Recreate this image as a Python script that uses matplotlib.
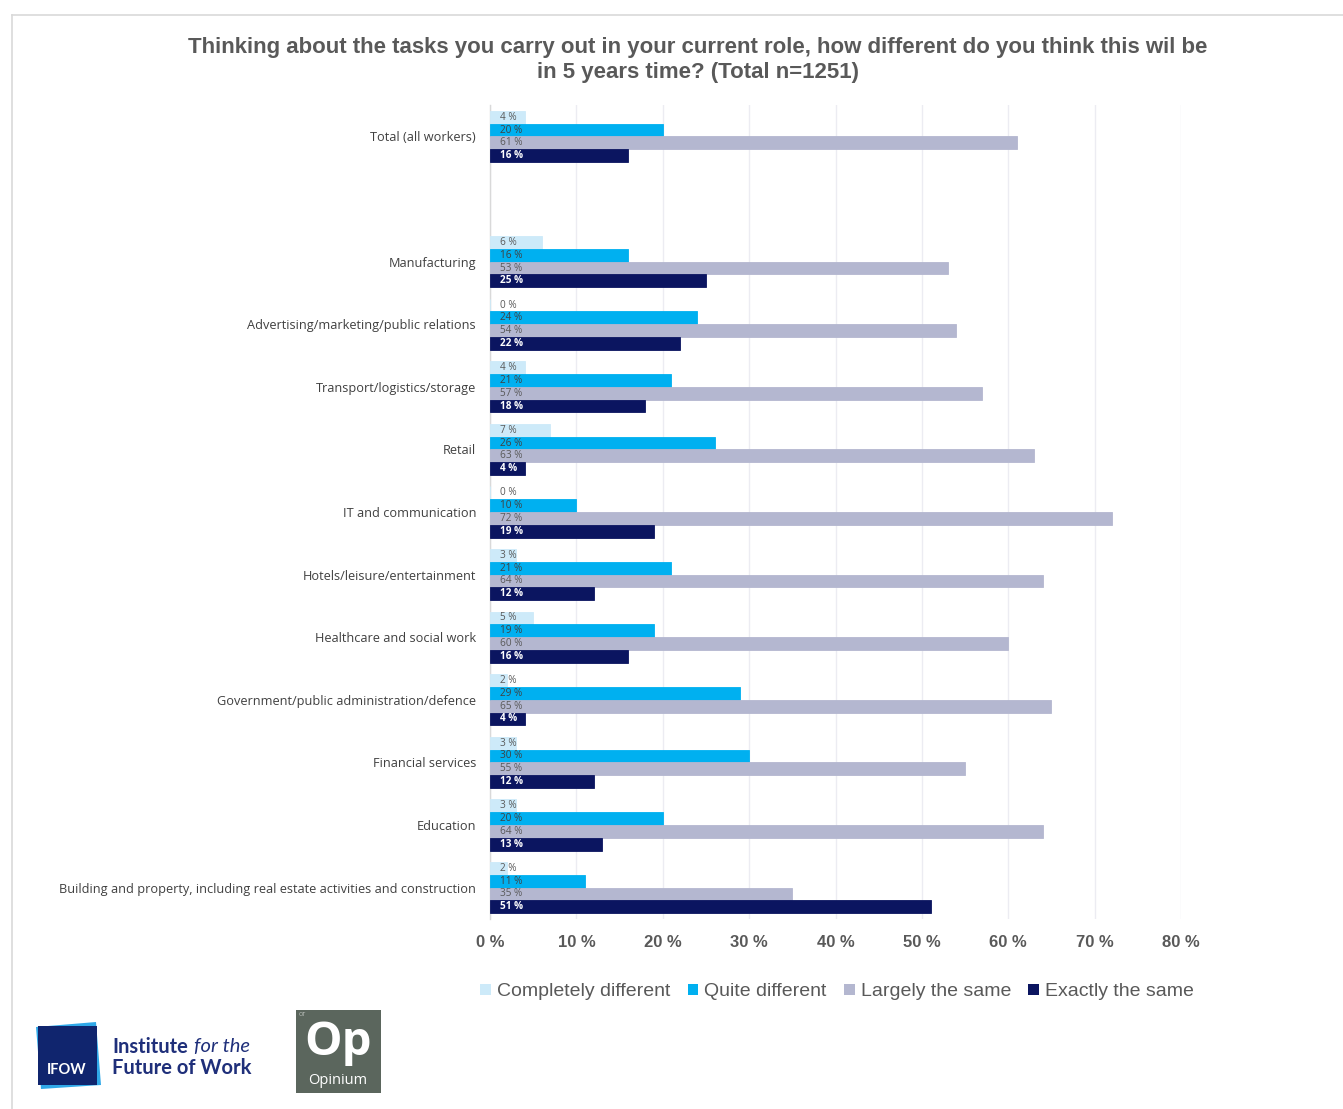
import matplotlib
matplotlib.use("Agg")
import matplotlib.pyplot as plt
from matplotlib.patches import Rectangle, Polygon
from matplotlib.lines import Line2D
import numpy as np

# Survey categories (blank row separates the total from the sectors)
categories = [
    "Total (all workers)",
    "",
    "Manufacturing",
    "Advertising/marketing/public relations",
    "Transport/logistics/storage",
    "Retail",
    "IT and communication",
    "Hotels/leisure/entertainment",
    "Healthcare and social work",
    "Government/public administration/defence",
    "Financial services",
    "Education",
    "Building and property, including real estate activities and construction",
]

# Percentages per answer option
completely_different = [4, np.nan, 6, 0, 4, 7, 0, 3, 5, 2, 3, 3, 2]
quite_different      = [20, np.nan, 16, 24, 21, 26, 10, 21, 19, 29, 30, 20, 11]
largely_the_same     = [61, np.nan, 53, 54, 57, 63, 72, 64, 60, 65, 55, 64, 35]
exactly_the_same     = [16, np.nan, 25, 22, 18, 4, 19, 12, 16, 4, 12, 13, 51]

series_names = ["Completely different", "Quite different", "Largely the same", "Exactly the same"]
series_values = [completely_different, quite_different, largely_the_same, exactly_the_same]
series_colors = ["#cdeaf9", "#00b0f0", "#b4b7d0", "#0b1560"]
label_colors = ["#595959", "#404040", "#595959", "#ffffff"]
label_weights = ["normal", "normal", "normal", "bold"]

x_ticks = [0, 10, 20, 30, 40, 50, 60, 70, 80]
x_tick_labels = [f"{t} %" for t in x_ticks]

title = ("Thinking about the tasks you carry out in your current role, how different do you think this wil be\n"
         "in 5 years time? (Total n=1251)")

W, H = 1343, 1109
fig = plt.figure(figsize=(W / 100, H / 100), dpi=100)
fig.patch.set_facecolor("white")

TEXT_FONT = ["Liberation Sans", "DejaVu Sans"]
LABEL_FONT = ["Open Sans", "DejaVu Sans"]

def fx(px):
    return px / W

def fy(py):
    return 1 - py / H

ax = fig.add_axes([fx(490), fy(918.8), fx(1181) - fx(490), fy(105.2) - fy(918.8)])

n_cat = len(categories)
y = np.arange(n_cat)
bar_h = 0.205
offsets = (np.arange(4) - 1.5) * bar_h

for i, (vals, col, lc, lw) in enumerate(zip(series_values, series_colors, label_colors, label_weights)):
    vals = np.asarray(vals, dtype=float)
    mask = ~np.isnan(vals)
    ax.barh(y[mask] + offsets[i], vals[mask], height=bar_h, color=col,
            edgecolor=col, linewidth=0.6, zorder=3)
    for yy, v in zip(y[mask], vals[mask]):
        ax.text(1.15, yy + offsets[i], f"{int(v)} %", ha="left", va="center",
                fontsize=7.2, color=lc, fontweight=lw, family=LABEL_FONT, zorder=4)

ax.set_ylim(n_cat - 0.5, -0.5)
ax.set_xlim(0, 80)
ax.set_yticks(y)
ax.set_yticklabels(categories, fontsize=9.2, color="#404040", family=LABEL_FONT)
ax.set_xticks(x_ticks)
ax.set_xticklabels(x_tick_labels, fontsize=12, color="#595959", fontweight="bold", family=TEXT_FONT)
ax.tick_params(axis="both", length=0)
ax.tick_params(axis="y", pad=10)
ax.tick_params(axis="x", pad=12)
ax.xaxis.grid(True, color="#ececf2", linewidth=1, zorder=0)
ax.set_axisbelow(True)
for s in ["top", "right", "bottom"]:
    ax.spines[s].set_visible(False)
ax.spines["left"].set_color("#d9d9d9")
ax.spines["left"].set_linewidth(1)

# Title
fig.text(fx(698), fy(60), title, ha="center", va="center", fontsize=16, fontweight="bold",
         color="#595959", family=TEXT_FONT, linespacing=1.3)

# Legend
handles = [Rectangle((0, 0), 1, 1, facecolor=c, edgecolor="none") for c in series_colors]
leg = fig.legend(handles, series_names, loc="center", bbox_to_anchor=(fx(837), fy(992)),
                 ncol=4, frameon=False, handlelength=0.55, handleheight=0.55,
                 handletextpad=0.3, columnspacing=0.9,
                 prop={"family": TEXT_FONT, "size": 14})
for t in leg.get_texts():
    t.set_color("#595959")

# Overlay for panel border and logos
ov = fig.add_axes([0, 0, 1, 1], zorder=5)
ov.set_xlim(0, W)
ov.set_ylim(H, 0)
ov.axis("off")
ov.patch.set_alpha(0)
ov.add_line(Line2D([12, W], [15, 15], color="#d9d9d9", linewidth=1.2))
ov.add_line(Line2D([12, 12], [15, H], color="#d9d9d9", linewidth=1.2))

# IFOW logo
ov.add_patch(Polygon([[36, 1027], [96, 1022], [101, 1085], [41, 1089]], closed=True,
                     facecolor="#2fa8e8", edgecolor="none"))
ov.add_patch(Rectangle((38, 1026), 59, 59, facecolor="#10256e", edgecolor="none"))
ov.text(67, 1070, "IFOW", ha="center", va="center", fontsize=10.5, fontweight="bold",
        color="white", family=["Lato", "DejaVu Sans"])
ov.text(112, 1047, "Institute", ha="left", va="center", fontsize=14.5, fontweight="bold",
        color="#1f2f7a", family=["Lato", "DejaVu Sans"])
ov.text(194, 1047, "for the", ha="left", va="center", fontsize=14.5, fontstyle="italic",
        color="#1f2f7a", family=["Lato", "DejaVu Sans"])
ov.text(112, 1068, "Future of Work", ha="left", va="center", fontsize=14.5, fontweight="bold",
        color="#1f2f7a", family=["Lato", "DejaVu Sans"])

# Opinium logo
ov.add_patch(Rectangle((296, 1010), 85, 83, facecolor="#5b665d", edgecolor="none"))
ov.text(338, 1043, "Op", ha="center", va="center", fontsize=34, fontweight="bold",
        color="white", family=["Open Sans", "DejaVu Sans"])
ov.text(338, 1081, "Opinium", ha="center", va="center", fontsize=10.5,
        color="white", family=["Open Sans", "DejaVu Sans"])
ov.text(299, 1014, "OT", ha="left", va="center", fontsize=4, color="#c8ccc8",
        family=["Open Sans", "DejaVu Sans"])

fig.savefig("out.png", dpi=100, facecolor="white")
